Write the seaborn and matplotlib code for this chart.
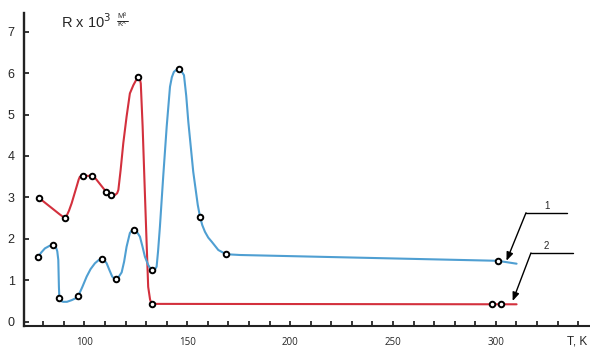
import matplotlib
matplotlib.use("Agg")
import matplotlib.pyplot as plt
from matplotlib.lines import Line2D
import seaborn as sns
import pandas as pd

# Curve 1 (blue): resistance trace
t1_line = [77.3, 79.0, 80.8, 83.0, 84.9, 86.0, 86.8, 87.3, 87.6, 87.8, 88.5, 89.7,
           91.5, 93.8, 95.5, 97.0, 99.0, 101.1, 103.0, 105.1, 107.0, 108.4, 109.6,
           110.8, 112.2, 113.5, 114.3, 115.2, 116.5, 118.1, 119.3, 120.5, 122.1,
           123.0, 124.1, 125.5, 127.0, 128.2, 129.4, 131.0, 132.0, 133.0, 134.2,
           135.1, 135.8, 136.7, 138.3, 140.0, 141.6, 142.5, 143.5, 144.7, 145.8,
           147.0, 148.4, 149.5, 150.5, 152.9, 155.1, 156.2, 157.3, 158.6, 160.2,
           161.9, 165.1, 168.8, 172.0, 175.6, 300.9, 310.1]
r1_line = [1.55, 1.67, 1.77, 1.83, 1.85, 1.82, 1.70, 1.49, 0.84, 0.58, 0.50, 0.48,
           0.48, 0.52, 0.56, 0.62, 0.84, 1.09, 1.27, 1.41, 1.49, 1.52, 1.49,
           1.41, 1.24, 1.09, 1.05, 1.04, 1.07, 1.19, 1.45, 1.81, 2.14,
           2.20, 2.21, 2.17, 2.05, 1.82, 1.57, 1.37, 1.29, 1.25, 1.25,
           1.33, 1.70, 2.29, 3.50, 4.71, 5.67, 5.90, 6.03, 6.08, 6.09,
           6.06, 5.95, 5.45, 4.83, 3.62, 2.82, 2.53, 2.33, 2.17, 2.03,
           1.93, 1.73, 1.63, 1.62, 1.61, 1.47, 1.40]
t1_pts = [77.3, 84.9, 87.8, 97.0, 108.4, 115.2, 124.1, 133.0, 145.8, 156.2, 168.8, 300.9]
r1_pts = [1.55, 1.85, 0.58, 0.62, 1.52, 1.04, 2.21, 1.25, 6.09, 2.53, 1.63, 1.47]

# Curve 2 (red): resistance trace
t2_line = [78.1, 84.2, 88.0, 90.5, 91.3, 92.5, 93.8, 96.2, 97.2, 97.8, 99.4, 103.8,
           105.0, 106.0, 109.2, 110.5, 112.9, 114.9, 115.9, 116.5, 117.6, 118.9,
           120.5, 122.1, 123.8, 125.0, 126.2, 127.0, 127.4, 128.3, 129.4, 130.3,
           131.0, 131.9, 132.4, 133.0, 310.1]
r2_line = [2.98, 2.74, 2.59, 2.50, 2.55, 2.68, 2.86, 3.26, 3.43, 3.50, 3.52, 3.52,
           3.48, 3.42, 3.22, 3.14, 3.06, 3.06, 3.10, 3.18, 3.66, 4.31,
           4.95, 5.51, 5.71, 5.82, 5.90, 5.85, 5.75, 4.71, 3.10, 1.81,
           0.84, 0.54, 0.46, 0.43, 0.42]
t2_pts = [78.1, 90.5, 99.4, 103.8, 110.5, 112.9, 126.2, 133.0, 298.0, 302.4]
r2_pts = [2.98, 2.50, 3.52, 3.52, 3.14, 3.06, 5.90, 0.43, 0.42, 0.42]

x_major = [100, 150, 200, 250, 300]
x_minor = list(range(80, 350, 10))
y_ticks = [0, 1, 2, 3, 4, 5, 6, 7]

BLUE = "#4f9fd2"
RED = "#d3303d"

sns.set_style("ticks")
plt.rcParams["font.family"] = ["Liberation Sans", "DejaVu Sans"]

fig = plt.figure(figsize=(5.9, 3.51), dpi=100)
ax = fig.add_axes([0.0415, 0.0712, 0.9585, 0.8926])

line1 = pd.DataFrame({"T": t1_line, "R": r1_line})
line2 = pd.DataFrame({"T": t2_line, "R": r2_line})
pts1 = pd.DataFrame({"T": t1_pts, "R": r1_pts})
pts2 = pd.DataFrame({"T": t2_pts, "R": r2_pts})

sns.lineplot(data=line2, x="T", y="R", color=RED, lw=1.5, sort=False,
             estimator=None, ax=ax, zorder=2)
sns.lineplot(data=line1, x="T", y="R", color=BLUE, lw=1.5, sort=False,
             estimator=None, ax=ax, zorder=2)
for pts in (pts1, pts2):
    sns.scatterplot(data=pts, x="T", y="R", s=16, facecolor="white",
                    edgecolor="black", linewidth=1.4, ax=ax, zorder=3)

ax.set_xlim(70.86, 345.8)
ax.set_ylim(-0.104, 7.458)
ax.set_xticks(x_major)
ax.set_xticks(x_minor, minor=True)
ax.set_yticks(y_ticks)
ax.set_xticklabels([str(v) for v in x_major], fontsize=7,
                   family=["Open Sans", "DejaVu Sans"])
ax.set_yticklabels([str(v) for v in y_ticks], fontsize=9)
ax.tick_params(axis="both", which="both", direction="in", length=3.5,
               width=1.1, color="black")
ax.tick_params(axis="x", which="both", pad=8)
ax.tick_params(axis="y", pad=7)
ax.set_xlabel("")
ax.set_ylabel("")
for side in ("top", "right"):
    ax.spines[side].set_visible(False)
ax.spines["left"].set_linewidth(1.7)
ax.spines["bottom"].set_linewidth(1.5)
ax.spines["left"].set_color("#222222")
ax.spines["bottom"].set_color("#222222")

# Curve labels with leader lines
ax.plot([314.7, 334.7], [2.63, 2.63], color="black", lw=1.0, clip_on=False)
ax.annotate("", xy=(305.2, 1.47), xytext=(314.7, 2.63),
            arrowprops=dict(arrowstyle="-|>,head_length=0.5,head_width=0.2",
                            color="black", lw=1.0, shrinkA=0, shrinkB=0))
ax.text(324.9, 2.79, "1", fontsize=7, ha="center", va="center")

ax.plot([317.1, 337.5], [1.66, 1.66], color="black", lw=1.0, clip_on=False)
ax.annotate("", xy=(308.2, 0.50), xytext=(317.1, 1.66),
            arrowprops=dict(arrowstyle="-|>,head_length=0.5,head_width=0.2",
                            color="black", lw=1.0, shrinkA=0, shrinkB=0))
ax.text(324.3, 1.82, "2", fontsize=7, ha="center", va="center")

# Axis titles
W, H = 590.0, 351.0
fig.text(61 / W, 1 - 21.5 / H, "R x 10$^3$", fontsize=10.5, ha="left", va="center")
fig.text(122 / W, 1 - 16 / H, "M³", fontsize=5.5, ha="center", va="center")
fig.text(122 / W, 1 - 24.5 / H, "K^", fontsize=5.5, ha="center", va="center")
fig.add_artist(Line2D([116.5 / W, 128 / W], [1 - 20.5 / H, 1 - 20.5 / H],
                      color="black", lw=0.6))
fig.text(567 / W, 1 - 341.5 / H, "T, K", fontsize=8.5, ha="left", va="center")

fig.savefig("out.png", dpi=100)
